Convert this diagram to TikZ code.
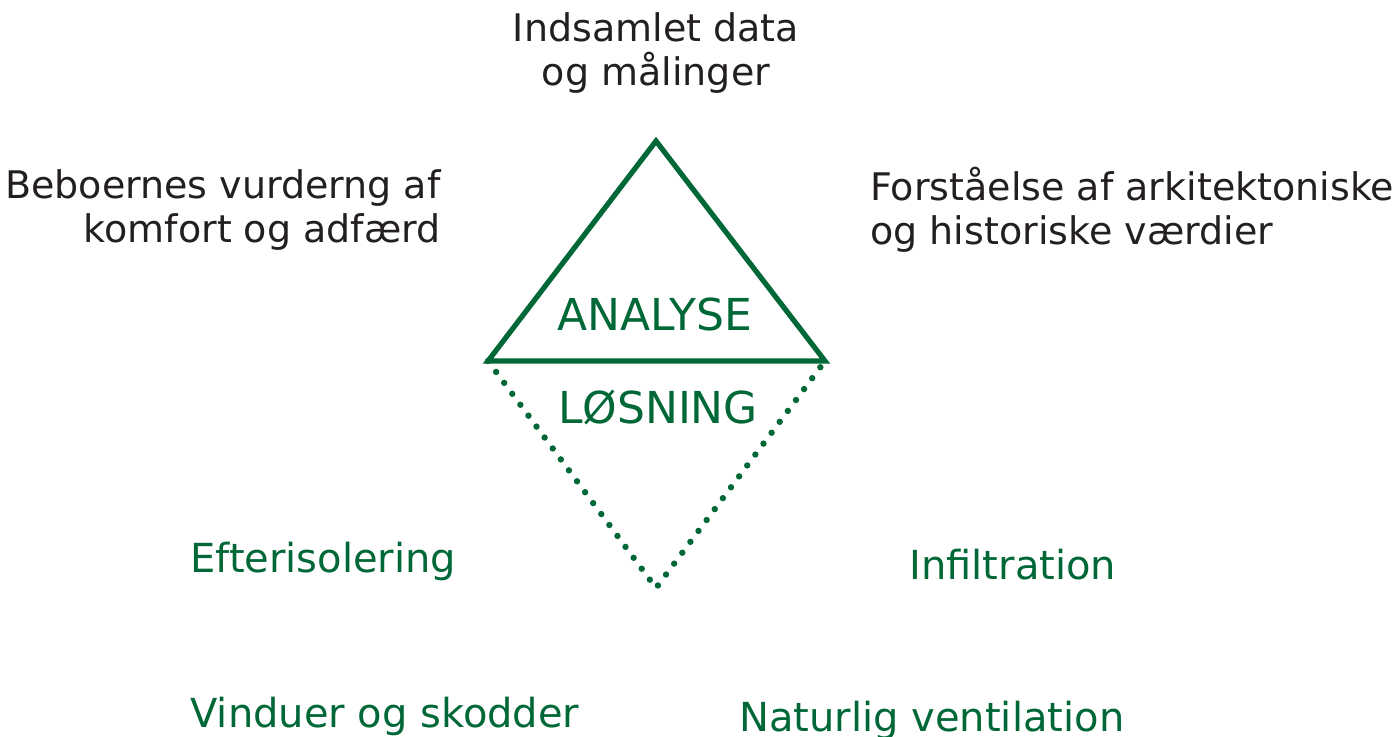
\documentclass[tikz,border=0pt]{standalone}
\usepackage{fontspec}
\setmainfont{DejaVu Sans}
\usetikzlibrary{positioning}
\definecolor{dGreen}{RGB}{0,104,55}
\definecolor{dInk}{RGB}{35,31,32}

\begin{document}
\begin{tikzpicture}[
			x=0.5pt,y=-0.5pt,
			node distance=4mm,
			lbl/.style={
				text=dInk,
				inner sep=0pt,
				font=\fontsize{19}{22}\selectfont
			},
			grn/.style={
				text=dGreen,
				inner sep=0pt,
				font=\fontsize{20}{23}\selectfont
			},
			tri/.style={
				draw=dGreen,
				line width=2.6pt,
				line join=miter
			},
			dots/.style={
				draw=dGreen,
				line width=3.2pt,
				line cap=round,
				dash pattern=on 0pt off 6.8pt
			}
			]
			\useasboundingbox (0,0) rectangle (1392,736);
			% triangle corners
			\coordinate (top) at (656,141);
			\coordinate (bl) at (488,361);
			\coordinate (br) at (825,361);
			\coordinate (bot) at (656,588);
			\draw[tri] (top) -- (br) -- (bl) -- cycle;
			\draw[dots] (bl) -- (bot) -- (br);
			% inner labels
			\node[grn,font=\fontsize{22}{25}\selectfont] (ana) at (655,314) {ANALYSE};
			\node[grn,font=\fontsize{22}{25}\selectfont] (los) at (658,407) {LØSNING};
			% analysis inputs
			\node[lbl,align=center] (data) at (656,53) {Indsamlet data\\og målinger};
			\node[lbl,align=right,anchor=east] (bebo) at (441,210) {Beboernes vurderng af\\komfort og adfærd};
			\node[lbl,align=left,anchor=west] (arki) at (870,210) {Forståelse af arkitektoniske\\og historiske værdier};
			% solutions
			\node[grn,anchor=west] (efter) at (190,561) {Efterisolering};
			\node[grn,anchor=west] (infil) at (909,565) {Infiltration};
			\node[grn,anchor=west] (vindu) at (190,716) {Vinduer og skodder};
			\node[grn,anchor=west] (natur) at (739,720) {Naturlig ventilation};
		\end{tikzpicture}
\end{document}
